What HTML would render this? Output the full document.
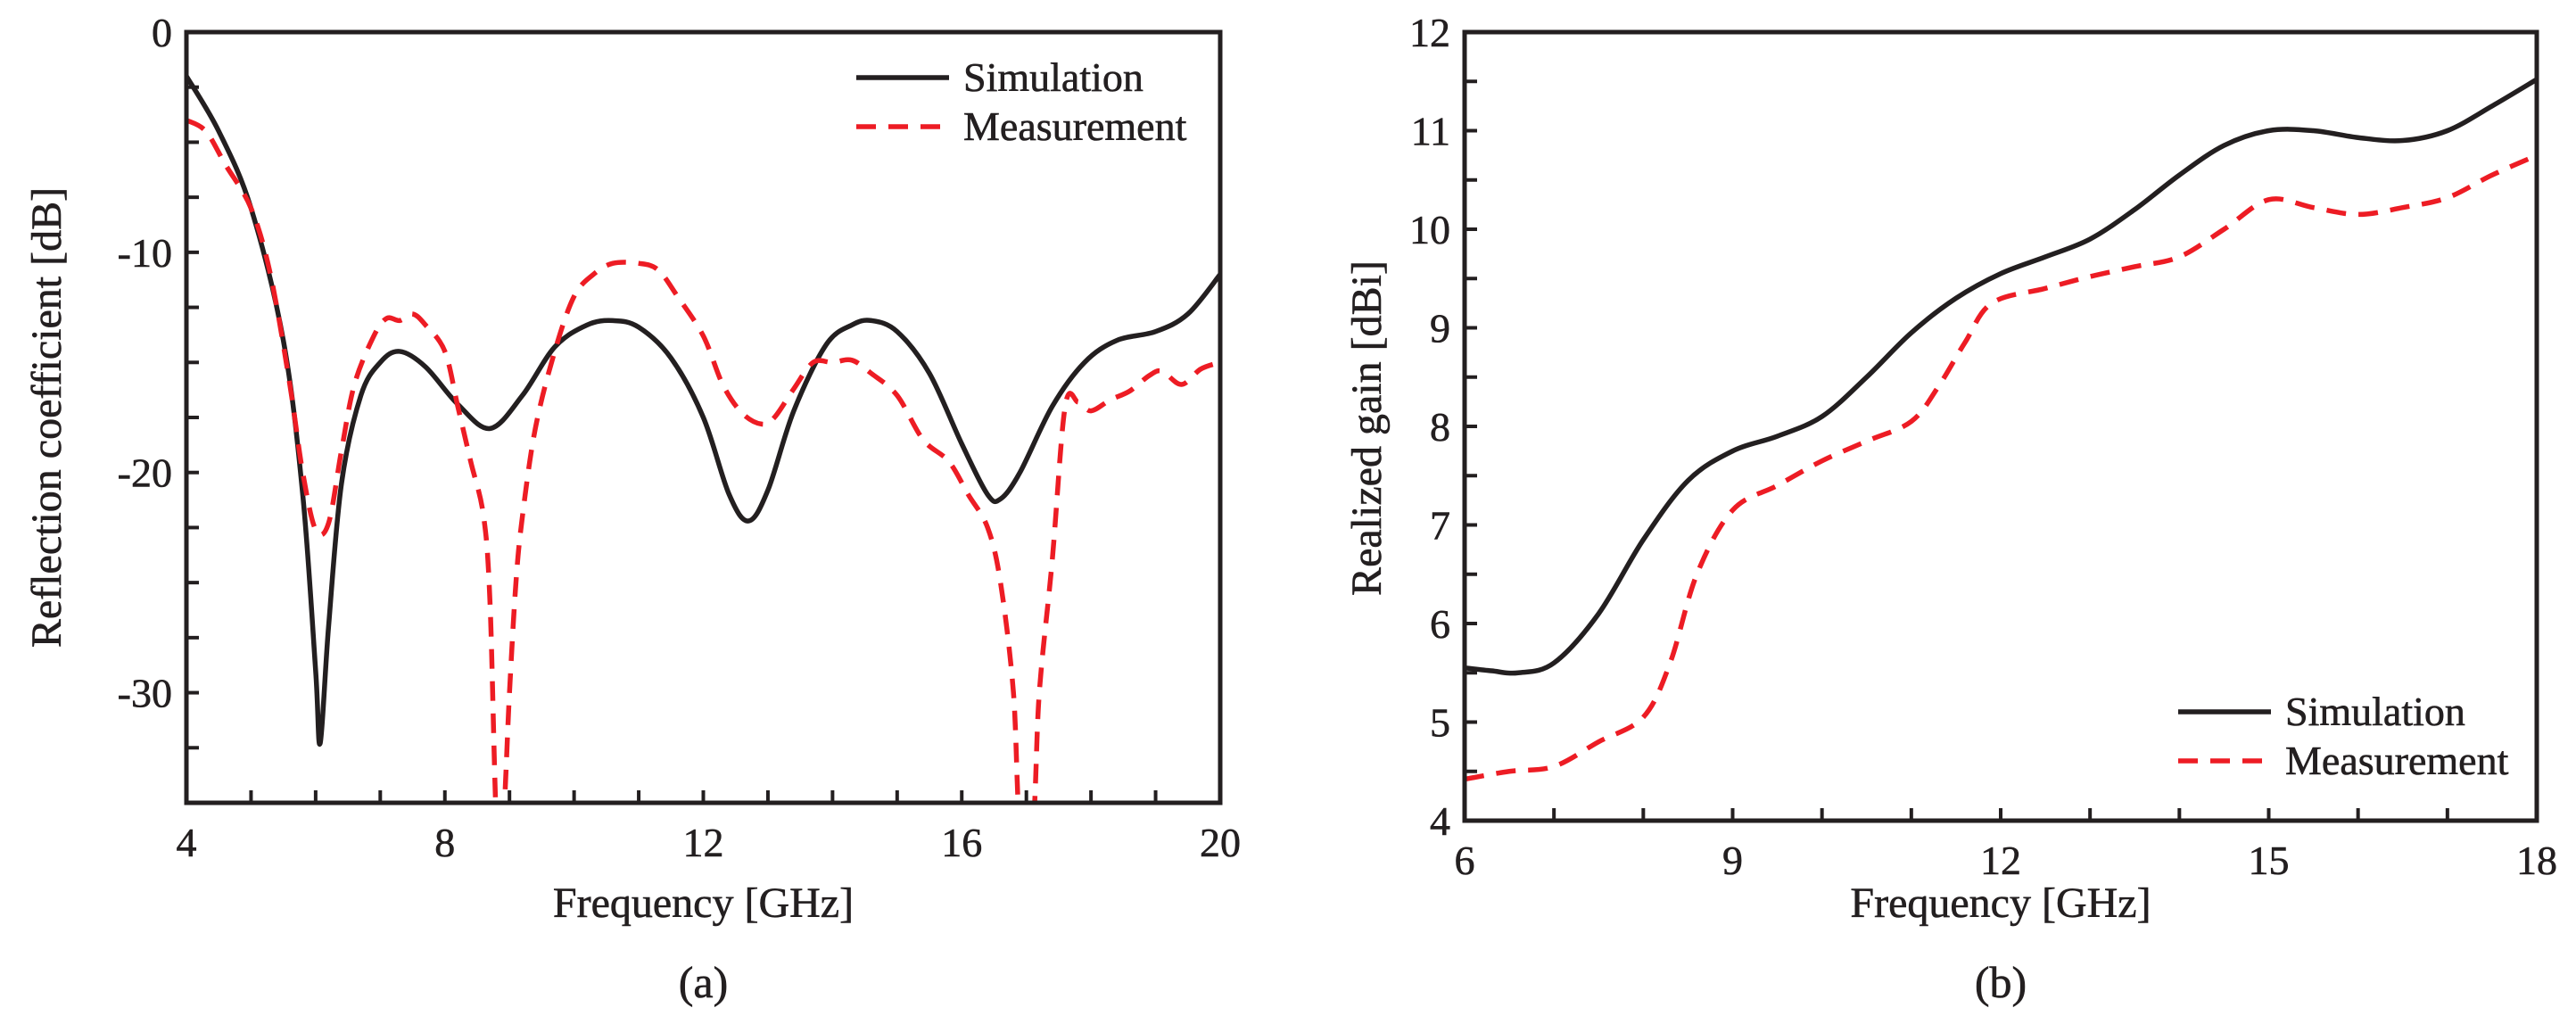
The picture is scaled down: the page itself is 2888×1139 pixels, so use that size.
<!DOCTYPE html>
<html><head><meta charset="utf-8"><style>
html,body{margin:0;padding:0;background:#fff;}
svg{display:block;font-family:"Liberation Serif",serif;}
svg text{stroke:#231f20;stroke-width:0.6px;}
</style></head><body>
<svg id="fig" width="2888" height="1139" viewBox="0 0 2888 1139">
<defs>
<clipPath id="clipA"><rect x="209" y="36" width="1159" height="864"/></clipPath>
<clipPath id="clipB"><rect x="1642" y="36" width="1202" height="884"/></clipPath>
</defs>
<g id="panelA"></g>
<g id="panelB"></g>
</svg>
<script>
// Panel (a) data
const aSimFreq = [4,4.5,5,5.5,5.8,6.0,6.07,6.2,6.4,6.7,7.0,7.3,7.7,8.2,8.7,9.2,9.7,10.2,10.6,11.0,11.5,12.0,12.4,12.7,13.0,13.4,13.9,14.3,14.6,15.0,15.5,16.0,16.4,16.6,16.9,17.4,17.9,18.4,19.0,19.5,20];
const aSimVal = [-2,-4.5,-8,-14,-21,-29,-32.3,-27,-20.5,-16.5,-15,-14.5,-15.2,-16.9,-18,-16.5,-14.3,-13.3,-13.1,-13.4,-14.8,-17.5,-21,-22.2,-20.8,-17.2,-14.2,-13.3,-13.1,-13.6,-15.5,-18.7,-21,-21.2,-20,-17,-15,-14,-13.6,-12.8,-11];
const aMeasFreq = [4,4.3,4.6,5.0,5.3,5.6,5.8,6.0,6.2,6.4,6.6,6.9,7.1,7.3,7.5,7.7,8.0,8.2,8.4,8.6,8.7,8.8,8.9,9.0,9.1,9.2,9.4,9.7,10.0,10.3,10.6,11.0,11.3,11.6,12.0,12.3,12.6,12.9,13.1,13.4,13.7,14.0,14.3,14.6,15.0,15.4,15.8,16.1,16.4,16.6,16.8,16.9,17.1,17.2,17.4,17.6,17.8,18.0,18.3,18.6,18.9,19.1,19.4,19.7,20];
const aMeasVal = [-4,-4.5,-6,-8,-11,-16,-20,-22.6,-22.3,-19,-16,-13.8,-13,-13.1,-12.8,-13.3,-14.5,-17,-19.5,-22,-26,-36,-36,-30,-25,-22,-18,-14.5,-12,-11,-10.5,-10.5,-10.8,-12,-13.8,-16,-17.3,-17.8,-17.5,-16.2,-15,-15,-14.9,-15.5,-16.5,-18.5,-19.5,-21,-22.5,-25,-30,-36,-36,-30,-24,-17,-16.8,-17.2,-16.7,-16.3,-15.6,-15.4,-16,-15.3,-15];
const aXTicks = [4,8,12,16,20];
const aYTicks = [0,-10,-20,-30];
// Panel (b) data
const bSimFreq = [6,6.3,6.6,7.0,7.5,8.0,8.5,9.0,9.5,10.0,10.5,11.0,11.5,12.0,12.5,13.0,13.5,14.0,14.5,15.0,15.5,16.0,16.5,17.0,17.5,18];
const bSimVal = [5.55,5.52,5.5,5.6,6.1,6.85,7.45,7.75,7.9,8.1,8.5,8.95,9.3,9.55,9.72,9.9,10.2,10.55,10.85,11.0,11.0,10.93,10.9,11.0,11.25,11.52];
const bMeasFreq = [6,6.5,7,7.5,8.0,8.3,8.6,9.0,9.5,10.0,10.5,11.0,11.3,11.6,11.9,12.5,13.0,13.5,14.0,14.5,15.0,15.5,16.0,16.5,17.0,17.5,18];
const bMeasVal = [4.42,4.5,4.55,4.8,5.05,5.6,6.5,7.15,7.4,7.65,7.85,8.05,8.4,8.85,9.25,9.4,9.52,9.62,9.72,10.0,10.3,10.22,10.15,10.22,10.32,10.55,10.75];
const bXTicks = [6,9,12,15,18];
const bYTicks = [4,5,6,7,8,9,10,11,12];

const NS = "http://www.w3.org/2000/svg";
function mk(tag, attrs, parent, txt){
  const e = document.createElementNS(NS, tag);
  for (const k in attrs) e.setAttribute(k, attrs[k]);
  if (txt !== undefined) e.textContent = txt;
  parent.appendChild(e); return e;
}
function smoothPath(xs, ys, sx, sy){
  const p = xs.map((x,i)=>[sx(x), sy(ys[i])]);
  let d = "M"+p[0][0]+","+p[0][1];
  for (let i=0;i<p.length-1;i++){
    const p0=p[i-1]||p[i], p1=p[i], p2=p[i+1], p3=p[i+2]||p2;
    const c1x=p1[0]+(p2[0]-p0[0])/6, c1y=p1[1]+(p2[1]-p0[1])/6;
    const c2x=p2[0]-(p3[0]-p1[0])/6, c2y=p2[1]-(p3[1]-p1[1])/6;
    d += " C"+c1x+","+c1y+" "+c2x+","+c2y+" "+p2[0]+","+p2[1];
  }
  return d;
}
function drawPanel(g, cfg){
  const {x0,x1,y0,y1,xmin,xmax,ymin,ymax} = cfg;
  const sx = v => x0 + (v-xmin)/(xmax-xmin)*(x1-x0);
  const sy = v => y1 - (v-ymin)/(ymax-ymin)*(y1-y0);
  for (let v=xmin; v<=xmax+1e-9; v+=cfg.xMinor){
    const t = mk("line",{x1:sx(v),x2:sx(v),y1:y1,y2:y1-14,stroke:"#231f20","stroke-width":4},g);
    
    
  }
  for (let v=ymin; v<=ymax+1e-9; v+=cfg.yMinor){
    const t = mk("line",{x1:x0,x2:x0+14,y1:sy(v),y2:sy(v),stroke:"#231f20","stroke-width":4},g);
    
    
  }
  cfg.xTicks.forEach(v=>{
    const t = mk("text",{x:sx(v),y:y1+60,"font-size":46,"text-anchor":"middle",fill:"#231f20"},g,String(v));
    
    
  });
  cfg.yTicks.forEach(v=>{
    const t = mk("text",{x:x0-16,y:sy(v)+16,"font-size":46,"text-anchor":"end",fill:"#231f20"},g,String(v));
    
    
  });
  cfg.series.forEach(s=>{
    const p = mk("path",{d:smoothPath(s.fx,s.fy,sx,sy),fill:"none",stroke:s.color,"stroke-width":s.w,"stroke-dasharray":s.dash||"none","clip-path":"url(#"+cfg.clip+")","stroke-linejoin":"round"},g);
    
    
  });
  const fr = mk("rect",{x:x0,y:y0,width:x1-x0,height:y1-y0,fill:"none",stroke:"#231f20","stroke-width":5},g);
  
  
  const xt = mk("text",{x:(x0+x1)/2,y:cfg.xTitleY,"font-size":48,"text-anchor":"middle",fill:"#231f20"},g,"Frequency [GHz]");
  
  
  const yt = mk("text",{x:0,y:0,"font-size":48,"text-anchor":"middle",fill:"#231f20",transform:"translate("+cfg.yTitleX+","+cfg.yTitleCY+") rotate(-90)"},g,cfg.yTitle);
  
  
  const cap = mk("text",{x:(x0+x1)/2,y:1118,"font-size":50,"text-anchor":"middle",fill:"#231f20"},g,cfg.caption);
  
  
  const L = cfg.legend;
  const l1 = mk("line",{x1:L.x,x2:L.x+104,y1:L.y,y2:L.y,stroke:"#231f20","stroke-width":5.5},g);
  
  
  const t1 = mk("text",{x:L.x+120,y:L.y+15,"font-size":46,fill:"#231f20"},g,"Simulation");
  
  
  const l2 = mk("line",{x1:L.x,x2:L.x+104,y1:L.y+55,y2:L.y+55,stroke:"#ed1c24","stroke-width":5.5,"stroke-dasharray":"22,14"},g);
  
  
  const t2 = mk("text",{x:L.x+120,y:L.y+70,"font-size":46,fill:"#231f20"},g,"Measurement");
  
  
}
drawPanel(document.getElementById("panelA"),{
  x0:209,x1:1368,y0:36,y1:900,xmin:4,xmax:20,ymin:-35,ymax:0,xMinor:1,yMinor:2.5,
  xTicks:aXTicks,yTicks:aYTicks,clip:"clipA",xTitleY:1028,yTitleX:68,yTitleCY:468,
  yTitle:"Reflection coefficient [dB]",caption:"(a)",legend:{x:960,y:87},
  series:[
    {fx:aSimFreq,fy:aSimVal,color:"#231f20",w:5.5,name:"simulation-line"},
    {fx:aMeasFreq,fy:aMeasVal,color:"#ed1c24",w:5.5,dash:"22,14",name:"measurement-line"}
  ]
});
drawPanel(document.getElementById("panelB"),{
  x0:1642,x1:2844,y0:36,y1:920,xmin:6,xmax:18,ymin:4,ymax:12,xMinor:1,yMinor:0.5,
  xTicks:bXTicks,yTicks:bYTicks,clip:"clipB",xTitleY:1028,yTitleX:1548,yTitleCY:480,
  yTitle:"Realized gain [dBi]",caption:"(b)",legend:{x:2442,y:798},
  series:[
    {fx:bSimFreq,fy:bSimVal,color:"#231f20",w:5.5,name:"simulation-line"},
    {fx:bMeasFreq,fy:bMeasVal,color:"#ed1c24",w:5.5,dash:"22,14",name:"measurement-line"}
  ]
});
</script>
</body></html>
